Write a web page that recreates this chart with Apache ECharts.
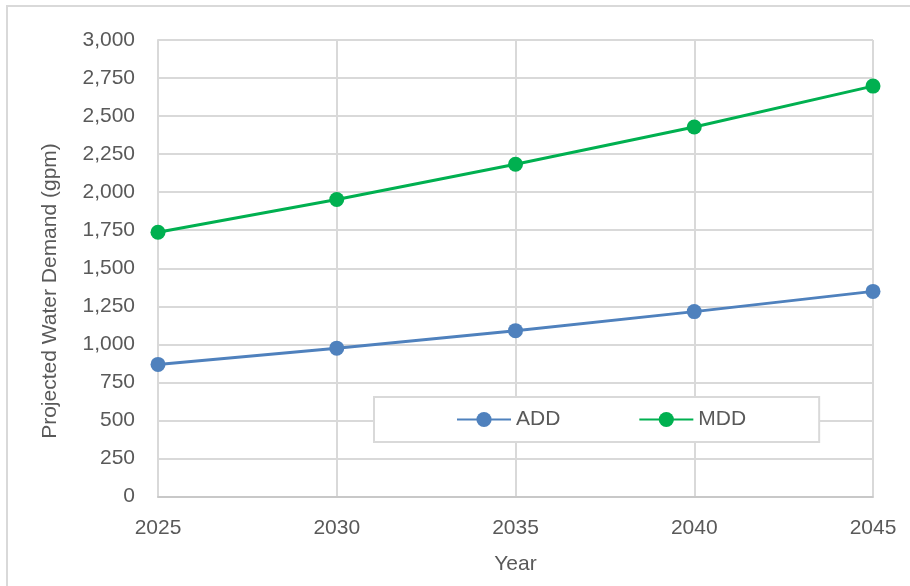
<!DOCTYPE html>
<html>
<head>
<meta charset="utf-8">
<script src="https://cdn.jsdelivr.net/npm/echarts@6/dist/echarts.min.js"></script>
<style>
html,body{margin:0;padding:0;background:#fff;}
#chart{width:910px;height:586px;}
</style>
</head>
<body>
<div id="chart"></div>
<script>
const years = ['2025', '2030', '2035', '2040', '2045'];
const addValues = [868, 975, 1090, 1215, 1348];
const mddValues = [1737, 1952, 2183, 2428, 2697];
const seriesNames = ['ADD', 'MDD'];
const yTitle = 'Projected Water Demand (gpm)';
const xTitle = 'Year';

const FONT = "'Liberation Sans', Arial, sans-serif";
const FS = 21;
const TXT = '#595959';
const GRID = '#d9d9d9';

const chart = echarts.init(document.getElementById('chart'), null, {renderer: 'canvas'});
chart.setOption({
  animation: false,
  backgroundColor: '#ffffff',
  grid: {left: 158, right: 37, top: 40, bottom: 89.5, containLabel: false},
  graphic: [
    {type: 'rect', shape: {x: 7, y: 6, width: 920, height: 600},
     style: {fill: 'none', stroke: '#d9d9d9', lineWidth: 2}, silent: true, z: -10},
    {type: 'text', x: 50, y: 291, rotation: Math.PI / 2,
     style: {text: yTitle, fill: TXT, font: FS + 'px ' + FONT, textAlign: 'center', textVerticalAlign: 'middle'}}
  ],
  legend: {
    data: seriesNames,
    left: 374, top: 397,
    orient: 'horizontal',
    padding: [10, 73, 10, 82],
    itemGap: 78,
    itemWidth: 54,
    itemHeight: 19,
    backgroundColor: '#ffffff',
    borderColor: '#d9d9d9',
    borderWidth: 2,
    textStyle: {color: TXT, fontSize: FS, fontFamily: FONT, lineHeight: 25}
  },
  xAxis: {
    type: 'category',
    data: years,
    boundaryGap: false,
    name: xTitle,
    nameLocation: 'middle',
    nameGap: 57,
    nameTextStyle: {color: TXT, fontSize: FS, fontFamily: FONT},
    axisLine: {lineStyle: {color: '#c8c8c8', width: 2}},
    axisTick: {show: false},
    axisLabel: {color: TXT, fontSize: FS, fontFamily: FONT, margin: 21},
    splitLine: {show: true, lineStyle: {color: GRID, width: 2}}
  },
  yAxis: {
    type: 'value',
    min: 0, max: 3000, interval: 250,
    axisLine: {show: true, lineStyle: {color: GRID, width: 2}},
    axisTick: {show: false},
    axisLabel: {color: TXT, fontSize: FS, fontFamily: FONT, margin: 23,
      formatter: v => v.toLocaleString('en-US')},
    splitLine: {show: true, lineStyle: {color: GRID, width: 2}}
  },
  series: [
    {name: seriesNames[0], type: 'line', data: addValues, symbol: 'circle', symbolSize: 15,
     itemStyle: {color: '#4f81bd'}, lineStyle: {color: '#4f81bd', width: 3}, z: 3},
    {name: seriesNames[1], type: 'line', data: mddValues, symbol: 'circle', symbolSize: 15,
     itemStyle: {color: '#00b050'}, lineStyle: {color: '#00b050', width: 3}, z: 3}
  ]
});
</script>
</body>
</html>
